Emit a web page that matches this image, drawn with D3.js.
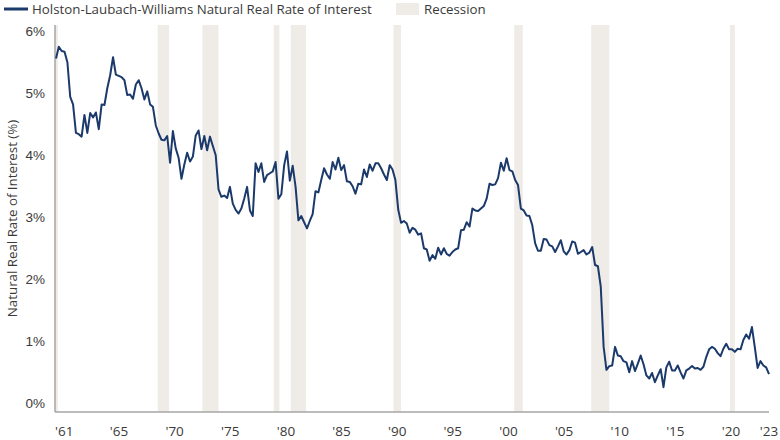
<!DOCTYPE html>
<html>
<head>
<meta charset="utf-8">
<script src="https://cdn.jsdelivr.net/npm/d3@7"></script>
<style>
  html, body { margin: 0; padding: 0; background: #fff; }
  svg { display: block; font-family: "Open Sans", "Liberation Sans", sans-serif; }
</style>
</head>
<body>
<svg id="chart" width="780" height="440"></svg>
<script>
// ---- Data (quarterly, starting 1961 Q1) ----
const startYear = 1961;
const rates = [
  5.56, 5.75, 5.68, 5.67, 5.50, 4.94, 4.82, 4.36, 4.34, 4.30,
  4.65, 4.36, 4.68, 4.61, 4.69, 4.42, 4.82, 4.81, 5.08, 5.29,
  5.58, 5.30, 5.28, 5.26, 5.21, 4.97, 4.98, 4.91, 5.14, 5.21,
  5.08, 4.90, 5.03, 4.82, 4.78, 4.48, 4.35, 4.25, 4.24, 4.31,
  3.88, 4.39, 4.11, 3.96, 3.62, 3.85, 4.04, 3.90, 3.98, 4.32,
  4.40, 4.10, 4.31, 4.08, 4.30, 4.15, 4.00, 3.45, 3.33, 3.35,
  3.31, 3.49, 3.22, 3.12, 3.06, 3.14, 3.30, 3.49, 3.11, 3.02,
  3.87, 3.73, 3.87, 3.57, 3.68, 3.71, 3.74, 3.89, 3.30, 3.37,
  3.84, 4.06, 3.59, 3.83, 3.49, 2.95, 3.02, 2.92, 2.82, 2.94,
  3.05, 3.42, 3.40, 3.60, 3.79, 3.69, 3.62, 3.89, 3.77, 3.96,
  3.76, 3.84, 3.58, 3.57, 3.50, 3.38, 3.54, 3.53, 3.77, 3.65,
  3.85, 3.75, 3.87, 3.87, 3.79, 3.69, 3.60, 3.84, 3.77, 3.60,
  3.12, 2.91, 2.94, 2.90, 2.75, 2.83, 2.80, 2.72, 2.74, 2.50,
  2.48, 2.30, 2.39, 2.33, 2.51, 2.40, 2.50, 2.41, 2.38, 2.44,
  2.48, 2.50, 2.79, 2.80, 2.92, 2.85, 3.14, 3.11, 3.10, 3.14,
  3.18, 3.30, 3.54, 3.52, 3.53, 3.63, 3.88, 3.75, 3.95, 3.76,
  3.74, 3.60, 3.52, 3.14, 3.11, 3.03, 3.02, 2.87, 2.58, 2.46,
  2.46, 2.65, 2.64, 2.55, 2.53, 2.44, 2.53, 2.63, 2.45, 2.40,
  2.47, 2.61, 2.59, 2.41, 2.44, 2.47, 2.40, 2.43, 2.52, 2.23,
  2.21, 1.88, 0.91, 0.54, 0.60, 0.61, 0.91, 0.77, 0.76, 0.68,
  0.66, 0.50, 0.68, 0.52, 0.64, 0.77, 0.63, 0.45, 0.40, 0.49,
  0.34, 0.45, 0.55, 0.26, 0.58, 0.67, 0.53, 0.53, 0.61, 0.50,
  0.40, 0.53, 0.56, 0.60, 0.56, 0.57, 0.54, 0.59, 0.75, 0.87,
  0.91, 0.88, 0.81, 0.76, 0.88, 0.96, 0.87, 0.87, 0.83, 0.88,
  0.87, 1.02, 1.11, 1.04, 1.23, 0.91, 0.57, 0.68, 0.61, 0.58,
  0.47
];
const recessionStarts = ["1960-04-01", "1969-12-01", "1973-11-01", "1980-02-01", "1981-08-01", "1990-08-01", "2001-03-01", "2007-12-01", "2020-02-01"];
const recessionEnds   = ["1961-03-01", "1970-12-01", "1975-04-01", "1980-08-01", "1982-12-01", "1991-04-01", "2001-12-01", "2009-07-01", "2020-07-01"];
const yTicks = [0, 1, 2, 3, 4, 5, 6];
const xTickYears = [1961, 1965, 1970, 1975, 1980, 1985, 1990, 1995, 2000, 2005, 2010, 2015, 2020, 2023];
const seriesLabel = "Holston-Laubach-Williams Natural Real Rate of Interest";
const recessionLabel = "Recession";
const yTitle = "Natural Real Rate of Interest (%)";

// ---- Layout ----
const W = 780, H = 440;
const plot = { left: 55, right: 769, top: 25, bottom: 412 };
const lineColor = "#1b3a6b";
const bandColor = "#efebe7";
const axisColor = "#a6a6a6";
const textColor = "#3a3a3a";

const parse = d3.timeParse("%Y-%m-%d");
const data = rates.map((v, i) => ({ date: new Date(startYear, i * 3, 1), value: v }));

const x = d3.scaleTime()
  .domain([data[0].date, data[data.length - 1].date])
  .range([plot.left + 1, plot.right]);
const y = d3.scaleLinear()
  .domain([-0.14, 6.1])
  .range([plot.bottom, plot.top]);

// tick-label axis (labels are evenly spaced along their own scale)
const xLabel = d3.scaleLinear().domain([1965, 2020]).range([119, 731]);

const svg = d3.select("#chart");

// Recession bands
const bands = recessionStarts.map((s, i) => ({ s: parse(s), e: parse(recessionEnds[i]) }));
svg.append("g").selectAll("rect").data(bands).join("rect")
  .attr("x", d => Math.max(x(d.s), plot.left))
  .attr("width", d => Math.max(0, x(d.e) - Math.max(x(d.s), plot.left)))
  .attr("y", plot.top)
  .attr("height", plot.bottom - plot.top)
  .attr("fill", bandColor);

// Axes lines
svg.append("line")
  .attr("x1", plot.left).attr("x2", plot.left)
  .attr("y1", plot.top).attr("y2", plot.bottom)
  .attr("stroke", axisColor).attr("stroke-width", 1.5);
svg.append("line")
  .attr("x1", plot.left).attr("x2", plot.right)
  .attr("y1", plot.bottom).attr("y2", plot.bottom)
  .attr("stroke", axisColor).attr("stroke-width", 1.5);

// Y axis labels
const yAxis = d3.axisLeft(y).tickValues(yTicks).tickSize(0).tickPadding(0)
  .tickFormat(d => d + "%");
const gy = svg.append("g").attr("transform", `translate(${plot.left - 10},0)`).call(yAxis);
gy.select(".domain").remove();
gy.selectAll("text").attr("fill", textColor).style("font-size", "13.5px");

// X axis labels
const gx = svg.append("g");
gx.selectAll("text").data(xTickYears).join("text")
  .attr("x", (d, i) => i === 0 ? plot.left : (i === xTickYears.length - 1 ? plot.right : xLabel(d)))
  .attr("y", 436)
  .attr("text-anchor", (d, i) => i === 0 ? "start" : "middle")
  .attr("fill", textColor)
  .style("font-size", "13.5px")
  .text(d => "'" + String(d).slice(2));

// Y title
svg.append("text")
  .attr("transform", `translate(17,${(plot.top + plot.bottom) / 2}) rotate(-90)`)
  .attr("text-anchor", "middle")
  .attr("fill", textColor)
  .style("font-size", "13.3px")
  .text(yTitle);

// Line
const line = d3.line().x(d => x(d.date)).y(d => y(d.value));
svg.append("path").datum(data)
  .attr("d", line)
  .attr("fill", "none")
  .attr("stroke", lineColor)
  .attr("stroke-width", 2)
  .attr("stroke-linejoin", "round");

// Legend
const lg = svg.append("g");
lg.append("line").attr("x1", 4).attr("x2", 28).attr("y1", 9).attr("y2", 9)
  .attr("stroke", lineColor).attr("stroke-width", 3);
lg.append("text").attr("x", 32).attr("y", 14).attr("fill", textColor)
  .style("font-size", "13.3px").text(seriesLabel);
lg.append("rect").attr("x", 396).attr("y", 3).attr("width", 23).attr("height", 12)
  .attr("fill", bandColor);
lg.append("text").attr("x", 424).attr("y", 14).attr("fill", textColor)
  .style("font-size", "13.3px").text(recessionLabel);
</script>
</body>
</html>
